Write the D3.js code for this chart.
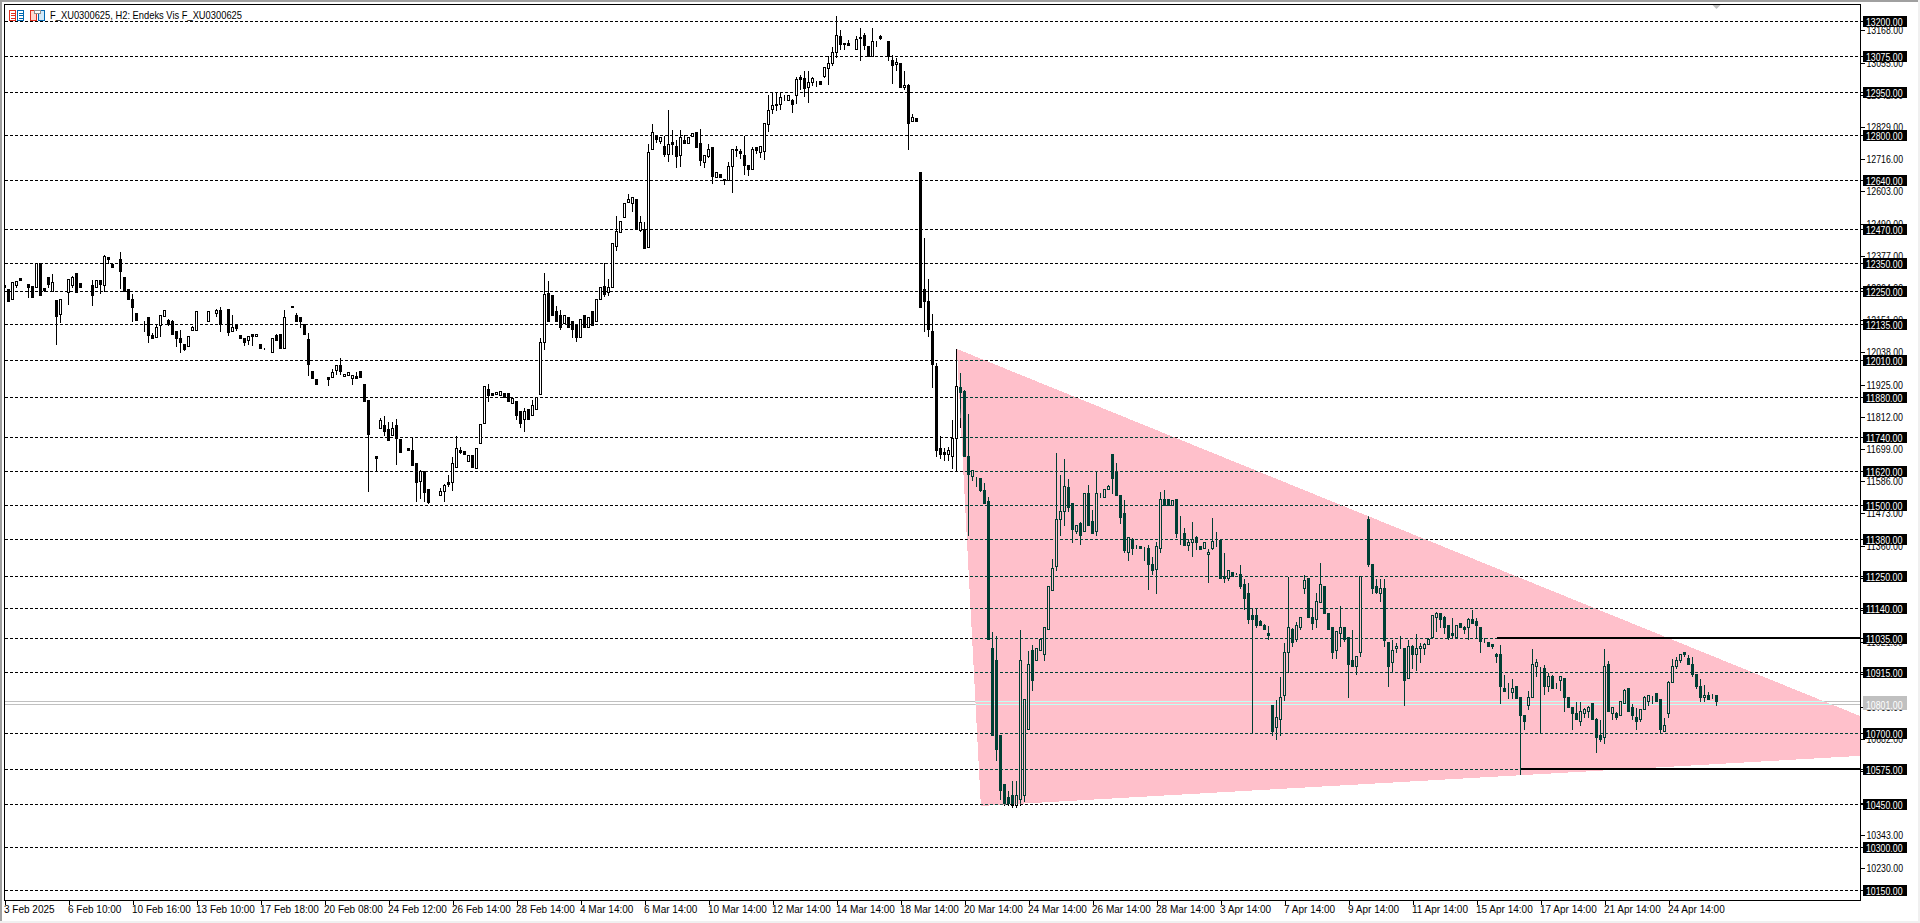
<!DOCTYPE html>
<html><head><meta charset="utf-8">
<script src="https://cdn.jsdelivr.net/npm/d3@7/dist/d3.min.js"></script>
<style>
html,body{margin:0;padding:0;background:#fff;overflow:hidden}
svg{display:block}
text{font-family:"Liberation Sans Narrow","Liberation Sans",sans-serif;font-size:10px}
</style></head><body><svg id="c" width="1920" height="923"></svg>
<script>
const opens=[
12272,12258,12225,12271,12296,12297,12275,12268,12267,12349,
12261,12301,12250,12220,12172,12209,12247,12274,12315,12279,
12245,12252,12272,12264,12289,12274,12370,12346,12364,12364,
12301,12258,12223,12174,12138,12149,12160,12096,12089,12131,
12165,12149,12146,12110,12086,12064,12060,12115,12114,12160,
12149,12148,12117,12176,12184,12153,12188,12110,12137,12096,
12088,12078,12100,12093,12065,12048,12016,12036,12096,12101,
12050,12149,12198,12169,12160,12135,12082,11970,11942,11928,
11950,11949,11951,11976,11991,11952,11958,11947,11954,11970,
11924,11868,11724,11672,11772,11780,11768,11748,11780,11732,
11690,11700,11693,11647,11586,11619,11556,11523,11523,11534,
11551,11580,11580,11635,11693,11689,11656,11675,11632,11717,
11787,11909,11895,11889,11885,11892,11892,11857,11864,11829,
11801,11836,11818,11836,11889,12071,12243,12236,12180,12166,
12138,12159,12145,12134,12089,12169,12124,12180,12145,12222,
12268,12247,12264,12411,12460,12512,12564,12560,12573,12465,
12470,12406,12750,12799,12777,12759,12732,12775,12759,12729,
12780,12771,12796,12811,12772,12705,12727,12758,12651,12663,
12645,12642,12691,12750,12743,12730,12695,12681,12757,12739,
12743,12839,12890,12909,12908,12930,12923,12923,12940,13001,
12999,12967,12986,12986,12988,13006,13035,13052,13090,13147,
13122,13121,13116,13102,13144,13151,13112,13078,13132,13146,
13143,13128,13063,13049,13053,12967,12975,12848,12860,12668,
12257,12218,12113,11990,11699,11685,11681,11671,11734,11913,
11899,11674,11601,11601,11597,11552,11516,11000,10958,10695,
10520,10474,10484,10449,10467,10484,10713,10993,10958,10993,
10976,11067,11201,11285,11453,11478,11562,11506,11408,11436,
11411,11541,11443,11411,11534,11530,11555,11678,11615,11537,
11471,11337,11380,11351,11355,11345,11348,11295,11275,11348,
11520,11520,11502,11520,11411,11401,11359,11369,11390,11355,
11348,11327,11348,11376,11376,11253,11243,11267,11267,11257,
11222,11190,11116,11113,11092,11081,11053,10800,10723,10751,
10832,10986,11067,11032,11074,11211,11243,11109,11099,11159,
11215,11123,11071,10993,11050,11074,11036,10955,10937,10983,
11257,11450,11292,11215,11190,11208,11018,10948,10997,11000,
11000,10892,11007,10976,10997,10997,11014,11036,11109,11120,
11109,11081,11050,11036,11085,11071,11074,11102,11092,11074,
11018,11018,11011,10979,10979,10860,10850,10843,10867,10825,
10765,10797,10825,10937,10930,10930,10864,10899,10878,10885,
10892,10828,10793,10769,10744,10772,10779,10807,10751,10692,
10688,10944,10769,10772,10762,10807,10860,10793,10758,10748,
10786,10814,10828,10842,10821,10709,10769,10878,10934,10955,
10983,10962,10944,10909,10864,10828,10835,10828,10832];
const closes=[
12265,12215,12285,12286,12292,12296,12267,12232,12350,12237,
12255,12277,12282,12165,12223,12209,12293,12300,12247,12264,
12245,12252,12238,12289,12277,12375,12364,12337,12364,12323,
12252,12222,12196,12150,12138,12149,12096,12088,12124,12167,
12184,12136,12099,12088,12071,12048,12093,12127,12181,12160,
12149,12181,12117,12184,12136,12153,12109,12124,12122,12088,
12072,12095,12093,12102,12053,12048,12016,12086,12078,12050,
12160,12149,12194,12148,12148,12099,11997,11948,11927,11928,
11950,11944,11967,11991,11972,11959,11966,11958,11948,11950,
11866,11751,11724,11667,11798,11762,11730,11770,11734,11685,
11690,11695,11642,11583,11619,11546,11511,11523,11523,11549,
11570,11575,11647,11700,11687,11678,11675,11633,11700,11784,
11917,11885,11887,11897,11899,11881,11864,11875,11815,11787,
11829,11801,11853,11878,12071,12240,12145,12166,12145,12127,
12166,12124,12117,12089,12152,12124,12159,12134,12222,12264,
12240,12264,12419,12461,12498,12562,12575,12580,12470,12495,
12402,12740,12811,12784,12793,12734,12768,12767,12727,12793,
12771,12793,12806,12757,12713,12730,12751,12655,12669,12653,
12642,12691,12751,12746,12736,12693,12680,12751,12746,12760,
12841,12887,12905,12903,12933,12930,12939,12908,12997,12997,
12965,12986,13000,12986,12979,13037,13053,13091,13151,13118,
13118,13116,13116,13137,13139,13115,13078,13130,13132,13139,
13143,13076,13046,13056,12967,12974,12841,12863,12848,12197,
12215,12120,11997,11695,11678,11678,11692,11734,11917,11896,
11671,11608,11622,11601,11552,11509,11029,10695,10643,10502,
10456,10453,10449,10484,10958,10818,10941,10888,11000,11029,
11071,11215,11281,11450,11478,11566,11495,11415,11429,11397,
11541,11432,11401,11541,11534,11555,11569,11597,11534,11457,
11341,11387,11348,11348,11351,11345,11295,11271,11355,11520,
11499,11499,11517,11401,11411,11359,11369,11380,11369,11345,
11369,11337,11373,11376,11243,11243,11271,11253,11264,11218,
11173,11102,11102,11078,11078,11067,11043,10706,10755,10828,
10983,11074,11018,11078,11109,11239,11109,11085,11162,11222,
11120,11067,10986,11057,11074,11029,10941,10934,10972,11253,
11257,11295,11208,11194,11208,11025,10937,10990,11007,11000,
10888,11007,10976,11000,11007,11014,11032,11113,11120,11102,
11074,11036,11043,11081,11074,11064,11102,11088,11078,11022,
11018,11004,11004,10972,10864,10846,10850,10860,10822,10762,
10741,10825,10941,10951,10930,10864,10902,10860,10878,10899,
10825,10793,10769,10748,10776,10783,10790,10748,10685,10678,
10937,10779,10790,10758,10811,10853,10779,10762,10741,10786,
10825,10832,10828,10814,10716,10727,10878,10937,10955,10976,
10979,10941,10909,10864,10828,10835,10818,10828,10811];
const highs=[
12272,12258,12285,12286,12296,12297,12275,12268,12353,12349,
12261,12301,12315,12220,12223,12209,12293,12308,12315,12279,
12245,12252,12293,12289,12289,12382,12370,12349,12364,12392,
12301,12258,12244,12174,12138,12149,12160,12109,12136,12171,
12184,12156,12153,12110,12119,12064,12093,12133,12181,12160,
12149,12181,12117,12193,12199,12153,12188,12171,12137,12096,
12088,12095,12100,12102,12065,12054,12016,12086,12103,12101,
12189,12149,12198,12178,12160,12135,12107,11970,11942,11928,
11950,11949,11981,11991,12019,11959,11966,11958,11972,11970,
11924,11868,11724,11672,11811,11816,11796,11797,11805,11732,
11690,11700,11738,11647,11626,11619,11556,11523,11523,11563,
11577,11610,11672,11745,11708,11689,11675,11675,11700,11784,
11917,11928,11895,11897,11899,11892,11892,11875,11864,11829,
11843,11836,11871,11878,12089,12320,12292,12236,12204,12187,
12166,12159,12145,12134,12152,12169,12159,12180,12222,12264,
12352,12299,12419,12517,12498,12562,12594,12585,12573,12517,
12497,12772,12842,12799,12793,12800,12889,12819,12784,12821,
12801,12793,12809,12811,12825,12730,12772,12758,12669,12663,
12645,12708,12751,12763,12754,12800,12695,12760,12757,12763,
12841,12942,12951,12951,12951,12942,12939,12930,13008,13012,
13029,13027,13006,12992,12988,13037,13080,13110,13219,13170,
13122,13137,13116,13149,13179,13161,13112,13177,13132,13152,
13143,13128,13084,13074,13053,13026,12982,12877,12860,12668,
12440,12299,12176,12004,11748,11703,11706,11801,12050,11969,
11906,11825,11622,11601,11597,11580,11531,11057,11046,10695,
10520,10502,10537,10537,11064,10818,10993,11011,11000,11029,
11071,11215,11316,11685,11608,11667,11594,11506,11429,11443,
11541,11573,11488,11622,11545,11555,11576,11678,11650,11537,
11523,11390,11390,11362,11355,11358,11362,11323,11373,11548,
11555,11520,11520,11520,11464,11425,11383,11446,11394,11355,
11369,11351,11460,11408,11376,11337,11271,11267,11267,11295,
11243,11229,11141,11141,11102,11088,11081,10800,10818,10902,
11021,11250,11074,11095,11109,11257,11243,11141,11194,11302,
11215,11123,11071,11057,11148,11074,11036,11067,10972,11253,
11257,11464,11292,11243,11243,11243,11018,11029,11018,11046,
11000,11029,11011,11050,11021,11021,11036,11116,11130,11123,
11116,11081,11109,11081,11085,11081,11109,11137,11109,11074,
11036,11018,11011,10986,11011,10909,10881,10895,10867,10825,
10765,10850,11000,10965,10934,10941,10913,10906,10881,10902,
10892,10828,10793,10811,10811,10793,10800,10807,10755,10751,
11000,10958,10790,10776,10811,10860,10860,10804,10793,10786,
10835,10832,10835,10842,10821,10758,10885,10962,10972,10976,
10986,10979,10972,10909,10892,10874,10846,10842,10835];
const lows=[
12265,12215,12225,12264,12292,12296,12230,12230,12267,12237,
12252,12267,12250,12066,12143,12209,12206,12264,12247,12264,
12245,12252,12201,12264,12246,12250,12349,12337,12364,12261,
12252,12222,12147,12150,12138,12113,12071,12088,12089,12094,
12165,12133,12099,12057,12039,12045,12060,12115,12114,12160,
12149,12148,12117,12164,12112,12153,12098,12110,12115,12088,
12062,12066,12062,12093,12053,12048,12016,12036,12078,12050,
12050,12149,12194,12148,12127,12099,11957,11948,11927,11928,
11950,11922,11951,11961,11961,11952,11958,11926,11948,11950,
11866,11551,11724,11624,11772,11747,11730,11748,11646,11685,
11690,11695,11642,11513,11524,11513,11508,11523,11523,11534,
11516,11569,11553,11635,11682,11678,11656,11633,11632,11717,
11787,11867,11887,11889,11885,11881,11864,11857,11801,11773,
11759,11801,11818,11836,11889,12047,12145,12166,12145,12117,
12138,12124,12089,12075,12089,12124,12124,12134,12145,12222,
12233,12236,12264,12394,12460,12512,12564,12532,12470,12462,
12402,12406,12750,12774,12770,12727,12708,12734,12686,12690,
12771,12771,12796,12757,12693,12686,12723,12632,12651,12653,
12626,12642,12599,12727,12719,12661,12658,12681,12737,12723,
12716,12813,12875,12887,12889,12922,12923,12880,12910,12959,
12936,12915,12973,12971,12979,13002,12977,13045,13074,13100,
13100,13116,13116,13102,13061,13100,13078,13078,13111,13135,
13143,13061,12981,13028,12967,12961,12750,12848,12848,12197,
12110,12092,11913,11671,11667,11660,11660,11632,11625,11773,
11671,11397,11587,11569,11548,11509,11029,10695,10607,10467,
10446,10446,10439,10439,10449,10460,10713,10853,10958,10993,
10958,11067,11201,11274,11397,11429,11478,11369,11401,11362,
11411,11432,11401,11397,11527,11527,11555,11541,11534,11439,
11334,11309,11327,11348,11351,11309,11204,11257,11190,11337,
11499,11499,11502,11390,11362,11359,11341,11320,11345,11345,
11348,11232,11345,11355,11243,11232,11239,11253,11257,11211,
11137,11088,10702,11071,11078,11067,11029,10695,10681,10695,
10815,10916,11004,11022,11067,11190,11109,11064,11071,11159,
11120,11067,10962,10962,11007,11022,10825,10934,10906,10969,
11257,11288,11190,11190,11162,11007,10864,10913,10986,11000,
10797,10892,10927,10920,10948,10976,11014,11036,11057,11071,
11050,11032,11036,11036,11074,11053,11032,11088,11039,10983,
11018,11004,11000,10948,10807,10846,10822,10822,10822,10555,
10716,10783,10825,10899,10702,10836,10846,10860,10860,10853,
10779,10793,10716,10748,10730,10755,10758,10748,10632,10671,
10664,10779,10748,10751,10762,10807,10779,10751,10713,10744,
10786,10800,10807,10814,10702,10706,10758,10878,10930,10951,
10969,10941,10899,10860,10814,10814,10818,10822,10797];

const gridLevels=[13200,13075,12950,12800,12640,12470,12350,12250,12135,12010,11880,11740,11620,11500,11380,11250,11140,11035,10915,10700,10575,10450,10300,10150];
const priceTicks=[13168,13055,12942,12829,12716,12603,12490,12377,12264,12151,12038,11925,11812,11699,11586,11473,11360,11247,11134,11021,10908,10795,10682,10569,10456,10343,10230];
const dateLabels=["3 Feb 2025","6 Feb 10:00","10 Feb 16:00","13 Feb 10:00","17 Feb 18:00","20 Feb 08:00","24 Feb 12:00","26 Feb 14:00","28 Feb 14:00","4 Mar 14:00","6 Mar 14:00","10 Mar 14:00","12 Mar 14:00","14 Mar 14:00","18 Mar 14:00","20 Mar 14:00","24 Mar 14:00","26 Mar 14:00","28 Mar 14:00","3 Apr 14:00","7 Apr 14:00","9 Apr 14:00","11 Apr 14:00","15 Apr 14:00","17 Apr 14:00","21 Apr 14:00","24 Apr 14:00"];
const triangleBars=[238.1,244.1,485.4];
const trianglePrices=[12050,10446,10639];
const solidLevels=[{price:11035,fromBar:373},{price:10575,fromBar:379}];
const bidAsk=[10811,10801];
const titleText="F_XU0300625, H2:  Endeks Vis F_XU0300625";

const W=1920,H=923,plotL=4,plotR=1860,plotT=4,plotB=900,barStep=4,ticksEvery=16;
const x=d3.scaleLinear().domain([0,1]).range([4.5,4.5+barStep]);
const y=d3.scaleLinear().domain([13200,10150]).range([21.3,890.3]);
const py=p=>Math.floor(y(p))+0.5;
const svg=d3.select("#c");
const defs=svg.append("defs");
defs.append("clipPath").attr("id","plot").append("rect").attr("x",plotL+1).attr("y",plotT+1).attr("width",plotR-plotL-1).attr("height",plotB-plotT-1);
const triPts=triangleBars.map((b,i)=>[x(b),y(trianglePrices[i])]).map(p=>p.join(",")).join(" ");
defs.append("clipPath").attr("id","tri").append("polygon").attr("points",triPts);

svg.append("rect").attr("width",W).attr("height",H).attr("fill","#fff");

function layer(parent,ink,paper,bidCol){
  const g=parent.append("g").attr("shape-rendering","crispEdges");
  g.selectAll("line.grid").data(gridLevels).join("line").attr("class","grid")
    .attr("x1",plotL+1).attr("x2",plotR).attr("y1",d=>py(d)).attr("y2",d=>py(d))
    .attr("stroke",ink).attr("stroke-dasharray","3,2");
  g.selectAll("line.bid").data(bidAsk).join("line").attr("class","bid")
    .attr("x1",plotL+1).attr("x2",plotR).attr("y1",d=>py(d)).attr("y2",d=>py(d)).attr("stroke",bidCol);
  const c=g.selectAll("g.c").data(opens).join("g").attr("class","c");
  c.append("line").attr("x1",(d,i)=>x(i)).attr("x2",(d,i)=>x(i))
    .attr("y1",(d,i)=>py(highs[i])).attr("y2",(d,i)=>py(lows[i])+0.5).attr("stroke",ink);
  c.append("rect").attr("x",(d,i)=>x(i)-1).attr("width",2)
    .attr("y",(d,i)=>py(Math.max(opens[i],closes[i])))
    .attr("height",(d,i)=>Math.max(0,py(Math.min(opens[i],closes[i]))-py(Math.max(opens[i],closes[i]))))
    .attr("stroke",ink).attr("fill",(d,i)=>closes[i]>opens[i]?paper:ink);
}
const plot=svg.append("g").attr("clip-path","url(#plot)");
layer(plot,"#000","#fff","#c0c0c0");
plot.append("polygon").attr("points",triPts).attr("fill","#ffc0cb").attr("shape-rendering","crispEdges");
layer(plot.append("g").attr("clip-path","url(#tri)"),"#003f34","#ffc0cb","#c0fff4");
plot.selectAll("line.solid").data(solidLevels).join("line").attr("class","solid")
  .attr("x1",d=>x(d.fromBar)).attr("x2",plotR).attr("y1",d=>Math.floor(y(d.price))).attr("y2",d=>Math.floor(y(d.price)))
  .attr("stroke","#000").attr("stroke-width",2).attr("shape-rendering","crispEdges");

// price axis
const axR=svg.append("g").attr("transform",`translate(${plotR+0.5},0)`).attr("shape-rendering","crispEdges")
  .call(d3.axisRight(y).tickValues(priceTicks).tickSize(4).tickPadding(1).tickFormat(d3.format(".2f")));
axR.select(".domain").remove();
axR.selectAll("text").attr("x",6).attr("textLength",36.5).attr("lengthAdjust","spacingAndGlyphs").attr("fill","#000").style("font-size","11px").style("font-family",'"Liberation Sans Narrow","Liberation Sans",sans-serif');
axR.selectAll("line").attr("stroke","#000");

// level tags
const tags=svg.append("g");
const lev=tags.selectAll("g").data(gridLevels).join("g").attr("transform",d=>`translate(0,${py(d)})`);
lev.append("line").attr("x1",plotR).attr("x2",plotR+4).attr("stroke","#000").attr("shape-rendering","crispEdges");
lev.append("rect").attr("x",1863).attr("y",-5.5).attr("width",44).attr("height",11).attr("fill","#000").attr("shape-rendering","crispEdges");
lev.append("text").attr("x",1866).attr("y",4).attr("fill","#fff").attr("textLength",36.5).attr("lengthAdjust","spacingAndGlyphs").style("font-size","11px").text(d=>d3.format(".2f")(d));
const bidTag=tags.append("g");
bidTag.append("rect").attr("x",1863).attr("y",py(bidAsk[0])-5.5).attr("width",44).attr("height",py(bidAsk[1])-py(bidAsk[0])+11).attr("fill","#c0c0c0").attr("shape-rendering","crispEdges");
bidTag.append("text").attr("x",1866).attr("y",py(bidAsk[1])+4).attr("fill","#fff").attr("textLength",36.5).attr("lengthAdjust","spacingAndGlyphs").style("font-size","11px").text(bidAsk[1].toFixed(2));

// time axis
const axB=svg.append("g").attr("transform",`translate(0,${plotB+0.5})`).attr("shape-rendering","crispEdges")
  .call(d3.axisBottom(x).tickValues(dateLabels.map((d,i)=>i*ticksEvery)).tickSize(4).tickFormat((d,i)=>dateLabels[i]));
axB.select(".domain").remove();
axB.selectAll("line").attr("stroke","#000");
axB.selectAll("text").attr("text-anchor","start").attr("x",-1).attr("y",5).attr("dy","0.71em").attr("fill","#000").style("font-size","10px").style("font-family",'"Liberation Sans Narrow","Liberation Sans",sans-serif');

// frame
const frame=svg.append("g").attr("shape-rendering","crispEdges");
frame.append("rect").attr("x",plotL+0.5).attr("y",plotT+0.5).attr("width",plotR-plotL).attr("height",plotB-plotT).attr("fill","none").attr("stroke","#000");
frame.append("rect").attr("width",W).attr("height",2).attr("fill","#a0a0a0");
frame.append("rect").attr("width",2).attr("height",H).attr("fill","#a0a0a0");
frame.append("rect").attr("y",921).attr("width",W).attr("height",2).attr("fill","#f0f0f0");
frame.append("rect").attr("x",1918).attr("width",2).attr("height",H).attr("fill","#f0f0f0");

// chart-shift marker, above the last bar
svg.append("path").attr("d",d3.line()([[x(opens.length-1)-4,plotT+1],[x(opens.length-1)+4,plotT+1],[x(opens.length-1),plotT+5]])+"Z").attr("fill","#c0c0c0");

// title and its two icons
svg.append("text").attr("x",50).attr("y",19).attr("fill","#000").attr("textLength",192).attr("lengthAdjust","spacingAndGlyphs").style("font-size","11px").text(titleText);
const icons=svg.append("g").attr("fill","#fff").attr("shape-rendering","crispEdges");
[[9.5,"#e03020"],[17.5,"#0068b0"]].forEach(([ix,col])=>{
  icons.append("rect").attr("x",ix).attr("y",10.5).attr("width",6).attr("height",10).attr("stroke",col);
  [13,15,18].forEach(ly=>icons.append("line").attr("x1",ix+1).attr("x2",ix+6).attr("y1",ly+0.5).attr("y2",ly+0.5).attr("stroke",col));
});
icons.append("rect").attr("x",30.5).attr("y",10.5).attr("width",6).attr("height",10).attr("fill","#ffd8d0").attr("stroke","#e03020");
icons.append("rect").attr("x",38.5).attr("y",10.5).attr("width",6).attr("height",10).attr("fill","#d0e8f8").attr("stroke","#0068b0");
icons.append("rect").attr("x",34.5).attr("y",10.5).attr("width",6).attr("height",3).attr("fill","#fff").attr("stroke","#909090");
</script></body></html>
